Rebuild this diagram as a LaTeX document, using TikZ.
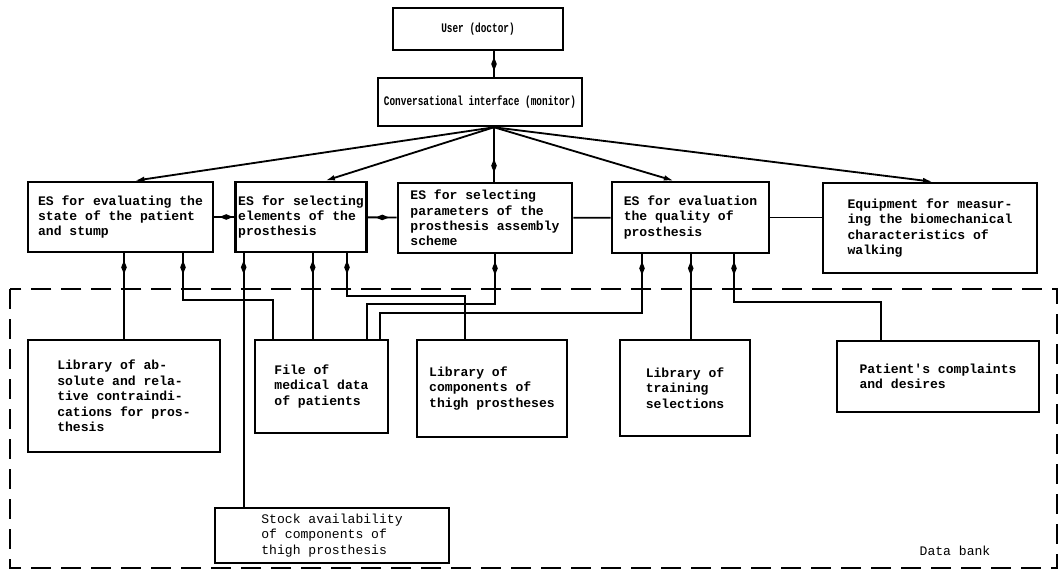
\documentclass[tikz,border=0pt]{standalone}
\usepackage{fontspec}
\setmonofont{Liberation Mono}
\newfontfamily\narrowmono[FakeStretch=0.72]{Liberation Mono}
\usetikzlibrary{arrows.meta,calc,decorations.markings}

\tikzset{
  box/.style={draw,line width=1.8pt,align=left,inner sep=2pt,
    font=\ttfamily\bfseries\fontsize{9.3}{11}\selectfont},
  narrowbox/.style={box,font=\narrowmono\bfseries\fontsize{9.3}{11}\selectfont},
  lightbox/.style={box,font=\ttfamily\fontsize{9.3}{11}\selectfont},
  link/.style={line width=1.3pt},
  blob/.style={postaction={decorate},decoration={markings,
    mark=at position #1 with {\fill (0.17cm,0) -- (0,0.07cm) -- (-0.17cm,0) -- (0,-0.07cm) -- cycle;}}},
  blob/.default=0.35cm,
  tip/.style={-{Latex[length=7pt,width=4pt]}},
}

\begin{document}
\begin{tikzpicture}[x=0.025cm,y=-0.025cm]
  \useasboundingbox (0,0) rectangle (1060,585);

  %data bank
  \draw[line width=1.8pt,dash pattern=on 0.5cm off 0.25cm] (10,289) rectangle (1057,568);
  \node[font=\ttfamily\fontsize{9.3}{11}\selectfont] (bank) at (955,551) {Data bank};

  %top of the system
  \node[narrowbox,minimum width=4.25cm,minimum height=1.05cm] (user) at (478,29) {User (doctor)};
  \node[narrowbox,minimum width=5.1cm,minimum height=1.2cm] (conv) at (480,102) {Conversational interface (monitor)};
  \coordinate (hub) at ($(conv.south)+(14,0)$);

  %expert systems
  \node[box,minimum width=4.625cm,minimum height=1.75cm] (es1) at (120.5,217)
    {ES for evaluating the\\state of the patient\\and stump};
  \node[box,minimum width=3.25cm,minimum height=1.75cm] (es2) at (301,217)
    {ES for selecting\\elements of the\\prosthesis};
  \node[box,minimum width=4.35cm,minimum height=1.75cm] (es3) at (485,218)
    {ES for selecting\\parameters of the\\prosthesis assembly\\scheme};
  \node[box,minimum width=3.925cm,minimum height=1.775cm] (es4) at (690.5,217.5)
    {ES for evaluation\\the quality of\\prosthesis};
  \node[box,minimum width=5.35cm,minimum height=2.25cm] (equip) at (930,228)
    {Equipment for measur-\\ing the biomechanical\\characteristics of\\walking};

  %contents of the data bank
  \node[box,minimum width=4.8cm,minimum height=2.8cm] (libabs) at (124,396)
    {Library of ab-\\solute and rela-\\tive contraindi-\\cations for pros-\\thesis};
  \node[box,minimum width=3.325cm,minimum height=2.325cm] (file) at (321.5,386.5)
    {File of\\medical data\\of patients};
  \node[box,minimum width=3.75cm,minimum height=2.425cm] (libcomp) at (492,388.5)
    {Library of\\components of\\thigh prostheses};
  \node[box,minimum width=3.25cm,minimum height=2.4cm] (libtrain) at (685,388)
    {Library of\\training\\selections};
  \node[box,minimum width=5.05cm,minimum height=1.775cm] (patient) at (938,376.5)
    {Patient's complaints\\and desires};
  \node[lightbox,minimum width=5.85cm,minimum height=1.375cm] (stock) at (332,535.5)
    {Stock availability\\of components of\\thigh prosthesis};

  %fan out of the interface
  \draw[link,blob=0.5] (user.south -| hub) -- (conv.north -| hub);
  \draw[link,tip] (hub) -- ($(es1.north west)+(108,0)$);
  \draw[link,tip] (hub) -- ($(es2.north west)+(91,0)$);
  \draw[link,blob=-0.4cm] (hub) -- (hub |- es3.north);
  \draw[link,tip] (hub) -- ($(es4.north west)+(63,0)$);
  \draw[link,tip] (hub) -- ($(equip.north west)+(111,0)$);

  %links between the expert systems
  \draw[link,blob=0.6] (es1) -- (es2);
  \draw[link,blob=0.5] (es2) -- (es3);
  \draw[link] (es3) -- (es4);
  \draw[link] (es4.east) -- (es4.east -| equip.west);

  %taps on the data bank
  \coordinate (r1) at (183,300);
  \coordinate (r2) at (347,296);
  \coordinate (r3) at (495,304);
  \coordinate (r4) at (642,313);
  \coordinate (r5) at (734,302);
  \coordinate (f1) at ($(file.north west)+(19,0)$);
  \coordinate (f2) at ($(file.north west)+(59,0)$);
  \coordinate (f3) at ($(file.north west)+(113,0)$);
  \coordinate (f4) at ($(file.north west)+(126,0)$);
  \coordinate (s1) at ($(stock.north west)+(30,0)$);
  \coordinate (lc1) at ($(libcomp.north west)+(49,0)$);
  \coordinate (lt1) at ($(libtrain.north west)+(72,0)$);
  \coordinate (p1) at ($(patient.north west)+(45,0)$);

  \draw[link,blob] (es1.south -| libabs) -- (libabs);
  \draw[link,blob] (es1.south -| r1) -- (r1) -| (f1);
  \draw[link,blob] (es2.south -| s1) -- (s1);
  \draw[link,blob] (es2.south -| f2) -- (f2);
  \draw[link,blob] (es2.south -| r2) -- (r2) -| (lc1);
  \draw[link,blob] (es3.south -| r3) -- (r3) -| (f3);
  \draw[link,blob] (es4.south -| r4) -- (r4) -| (f4);
  \draw[link,blob] (es4.south -| lt1) -- (lt1);
  \draw[link,blob] (es4.south -| r5) -- (r5) -| (p1);
\end{tikzpicture}
\end{document}
